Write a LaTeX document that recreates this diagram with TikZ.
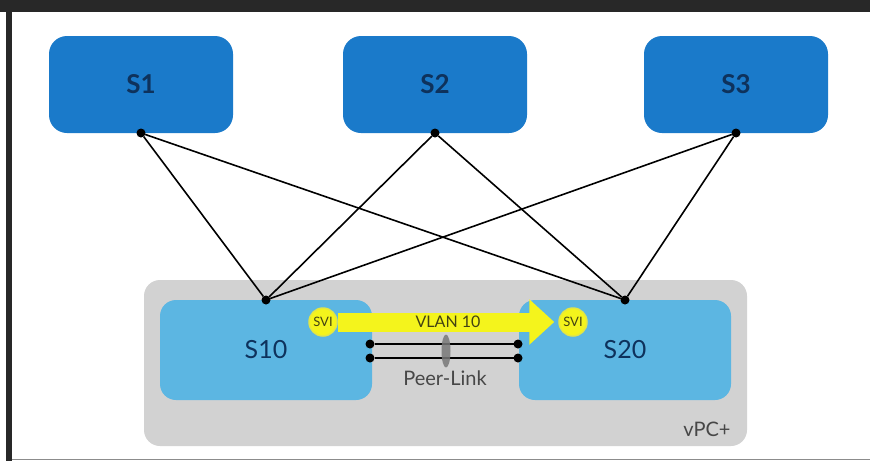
\documentclass[tikz,border=0pt]{standalone}
\usepackage{fontspec}
\setmainfont{Lato}
\usetikzlibrary{positioning,arrows.meta,shapes.geometric}
\definecolor{coreblue}{RGB}{26,122,202}
\definecolor{aggblue}{RGB}{92,182,226}
\definecolor{vpcgray}{RGB}{210,210,210}
\definecolor{navytext}{RGB}{14,50,92}
\definecolor{sviyellow}{RGB}{244,244,28}
\definecolor{sviring}{RGB}{226,230,70}
\definecolor{olivetext}{RGB}{66,66,18}
\definecolor{framegray}{RGB}{40,40,40}
\definecolor{lagray}{RGB}{120,120,120}

\begin{document}
\begin{tikzpicture}[x=1pt,y=-1pt,
        core/.style={rounded corners=18pt, fill=coreblue, text=navytext, outer sep=0pt,
          minimum width=184pt, minimum height=97pt,
          font=\fontsize{26}{26}\selectfont\bfseries},
        agg/.style={rounded corners=16pt, fill=aggblue, text=navytext, outer sep=0pt,
          minimum width=212pt, minimum height=100pt,
          font=\fontsize{25}{25}\selectfont},
        vpc/.style={rounded corners=16pt, fill=vpcgray, outer sep=0pt,
          minimum width=603pt, minimum height=166pt},
        dot/.style={circle, fill=black, inner sep=0pt, minimum size=9pt, outer sep=0pt},
        uplink/.style={line width=1.6pt},
        peer/.style={line width=1.8pt},
        lag/.style={ellipse, fill=lagray, fill opacity=0.85, inner sep=0pt,
          minimum width=9pt, minimum height=33pt},
        svi/.style={circle, fill=sviyellow, draw=sviring, line width=1.5pt, inner sep=0pt,
          minimum size=28pt, text=olivetext, font=\fontsize{13}{13}\selectfont},
        vlan/.style={line width=19pt, draw=sviyellow, shorten >=4pt,
          -{Triangle[length=25pt,width=44pt]}},
        tag/.style={text=black!72, font=\fontsize{20}{20}\selectfont}]
        \useasboundingbox (0,0) rectangle (870,461);
        \fill[white] (0,0) rectangle (870,461);
        \fill[framegray] (0,0) rectangle (870,12);
        \fill[framegray] (6,0) rectangle (12,461);
        \fill[black!45] (12,458.5) rectangle (870,460);

        \node[vpc] (vpc) at (445.5,363) {};
        \node[agg] (s10) at (266,350) {S10};
        \node[agg, right=147pt of s10] (s20) {S20};
        \node[tag] (vpctext) at (707,429) {vPC+};

        \node[core] (s1) at (141,84.5) {S1};
        \node[core, right=110pt of s1] (s2) {S2};
        \node[core, right=117pt of s2] (s3) {S3};

        \foreach \n in {s1,s2,s3}
          \node[dot] (\n dot) at (\n.south) {};
        \foreach \n in {s10,s20}
          \node[dot] (\n dot) at (\n.north) {};
        \foreach \a in {s1,s2,s3}
          \foreach \b in {s10,s20}
            \draw[uplink] (\a dot) -- (\b dot);

        \node[svi] (svia) at (323,322) {SVI};
        \node[svi] (svib) at (573,322) {SVI};
        \draw[vlan] (svia) -- (svib)
          node[midway, text=olivetext, font=\fontsize{16}{16}\selectfont] (vlantext) {VLAN 10};

        \node[dot] (pla) at (370,344) {};
        \node[dot, below=5pt of pla] (plb) {};
        \node[dot] (plc) at (518,344) {};
        \node[dot, below=5pt of plc] (pld) {};
        \draw[peer] (pla) -- (plc);
        \draw[peer] (plb) -- (pld);
        \node[lag] (lag) at (446,351) {};
        \node[tag] (pltext) at (445,378) {Peer-Link};
\end{tikzpicture}
\end{document}
